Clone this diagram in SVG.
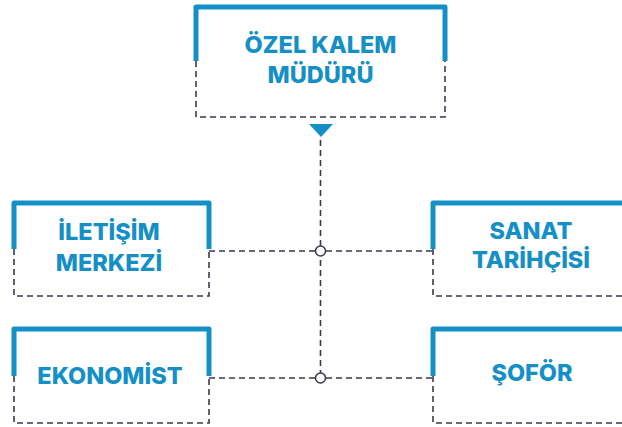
<svg xmlns="http://www.w3.org/2000/svg" width="622" height="427" viewBox="0 0 622 427">
<style>
.bl{fill:none;stroke:#1590c6;stroke-width:5;stroke-linejoin:round;stroke-linecap:butt}
.ds{fill:none;stroke:#3a384d;stroke-width:1.6;stroke-dasharray:6 4}
.t{font-family:Inter,"Open Sans","Liberation Sans",sans-serif;font-weight:800;font-size:23.5px;fill:#1590c6;text-anchor:middle}
.c{fill:#fff;stroke:#3a384d;stroke-width:1.5}
</style>
<rect width="622" height="427" fill="#fff"/>
<g id="connectors">
<path class="ds" d="M320.5 140V373M209 251H315M326 251H433M209 378H315M326 378H433"/>
<polygon points="309,124 333,124 321,137" fill="#1590c6"/>
<circle class="c" cx="320.5" cy="251" r="5"/>
<circle class="c" cx="320.5" cy="378" r="5"/>
</g>
<g id="n1">
<path class="bl" d="M196 61V7H445V61"/>
<path class="ds" d="M196 61V117H445V61"/>
<text class="t" x="320.5" y="53">ÖZEL KALEM</text>
<text class="t" x="320.5" y="83">MÜDÜRÜ</text>
</g>
<g id="n2">
<path class="bl" d="M14 249V203H209V249"/>
<path class="ds" d="M14 249V296H209V249"/>
<text class="t" x="109" y="240">İLETİŞİM</text>
<text class="t" x="109" y="271">MERKEZİ</text>
</g>
<g id="n3">
<path class="bl" d="M433 249V203H630"/>
<path class="ds" d="M433 249V296H630"/>
<text class="t" x="531" y="239">SANAT</text>
<text class="t" x="531" y="268">TARİHÇİSİ</text>
</g>
<g id="n4">
<path class="bl" d="M14 376V329H209V376"/>
<path class="ds" d="M14 376V423H209V376"/>
<text class="t" x="110" y="384">EKONOMİST</text>
</g>
<g id="n5">
<path class="bl" d="M433 376V329H630"/>
<path class="ds" d="M433 376V423H630"/>
<text class="t" x="532" y="381">ŞOFÖR</text>
</g>
</svg>
